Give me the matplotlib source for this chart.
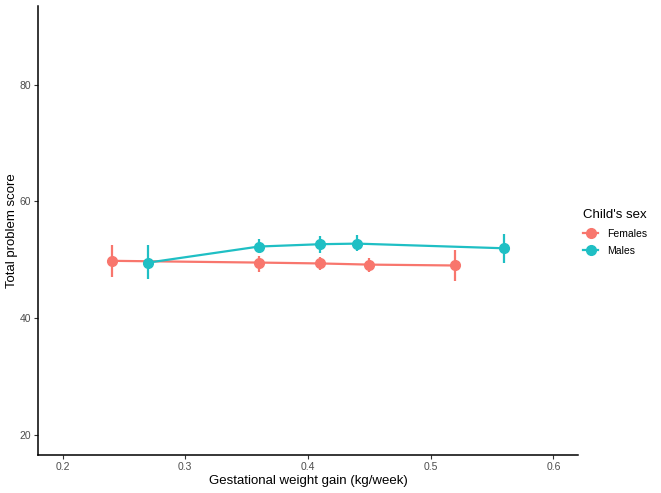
import matplotlib.pyplot as plt
from matplotlib.lines import Line2D

plt.rcParams["font.family"] = ["Liberation Sans", "DejaVu Sans"]

# Mean total problem score by gestational weight gain, with 95% CI
fem_x = [0.24, 0.36, 0.41, 0.45, 0.52]
fem_y = [49.8, 49.5, 49.35, 49.15, 49.0]
fem_lo = [47.1, 47.9, 48.2, 47.8, 46.4]
fem_hi = [52.5, 50.65, 50.4, 50.2, 51.7]

male_x = [0.27, 0.36, 0.41, 0.44, 0.56]
male_y = [49.5, 52.25, 52.65, 52.75, 51.95]
male_lo = [46.6, 51.1, 51.2, 51.5, 49.5]
male_hi = [52.5, 53.5, 54.1, 54.3, 54.4]

groups = ["Females", "Males"]
colors = ["#F8766D", "#1FBFC4"]

fig = plt.figure(figsize=(6.61, 4.93), dpi=100)
ax = fig.add_axes([38 / 661, 1 - 455 / 493, 540 / 661, 449 / 493])

series = [(fem_x, fem_y, fem_lo, fem_hi), (male_x, male_y, male_lo, male_hi)]
for (x, y, lo, hi), c in zip(series, colors):
    ax.plot(x, y, color=c, lw=1.6, zorder=2)
    ax.vlines(x, lo, hi, color=c, lw=1.6, zorder=3)
    ax.plot(x, y, "o", color=c, ms=7, zorder=4)

ax.set_xlim(0.18, 0.62)
ax.set_ylim(16.5, 93.5)
ax.set_xticks([0.2, 0.3, 0.4, 0.5, 0.6])
ax.set_xticklabels(["0.2", "0.3", "0.4", "0.5", "0.6"])
ax.set_yticks([20, 40, 60, 80])

for side in ["top", "right"]:
    ax.spines[side].set_visible(False)
for side in ["left", "bottom"]:
    ax.spines[side].set_linewidth(1.1)
ax.tick_params(labelsize=7.5, labelcolor="#4d4d4d", color="#333333",
               length=3, width=0.8, pad=2)

ax.set_xlabel("Gestational weight gain (kg/week)", fontsize=9.5, labelpad=2)
ax.set_ylabel("Total problem score", fontsize=9.5)
ax.yaxis.set_label_coords(-20 / 540, 0.5)

handles = [Line2D([], [], color=c, lw=1.6, marker="o", ms=7) for c in colors]
leg = fig.legend(handles, groups, title="Child's sex", loc="upper left",
                 bbox_to_anchor=(574 / 661, 1 - 200 / 493), frameon=False,
                 fontsize=7.5, title_fontsize=9.5, handlelength=1.4,
                 handletextpad=0.9, labelspacing=0.7)
leg._legend_box.align = "left"

fig.savefig("out.png", dpi=100)
